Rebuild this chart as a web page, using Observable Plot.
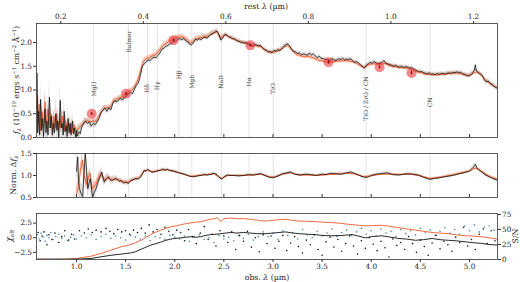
<!DOCTYPE html>
<html><head><meta charset="utf-8">
<script src="https://cdn.jsdelivr.net/npm/d3@7"></script>
<script src="https://cdn.jsdelivr.net/npm/@observablehq/plot@0.6"></script>
<style>
body{margin:0;background:#fff;}
#chart{position:relative;width:520px;height:282px;font-family:"DejaVu Serif",serif;}
#chart svg{position:absolute;left:0;overflow:visible;}
</style></head><body><div id="chart"></div>
<script>
const z = 3.2;
const obsDomain = [0.593, 5.285];
const restTicks = [0.2,0.4,0.6,0.8,1.0,1.2];
const obsTicks = [1.0,1.5,2.0,2.5,3.0,3.5,4.0,4.5,5.0];
const fluxTicks = [0,0.5,1,1.5,2];
const normTicks = [0.5,1,1.5];
const chiTicks = [-2.5,0,2.5];
const snTicks = [0,25,50,75];
const fluxDomain = [0,2.4], normDomain = [0.5,1.5], chiDomain = [-3.72,4.15], snDomain = [0,76.6];

const lineNames = ["MgII","Balmer","Hδ","Hγ","Hβ","Mgb","NaD","Hα","TiO","TiO / ZrO / CN","CN"];
const lineRest  = [0.2798,0.3646,0.4102,0.4341,0.4861,0.5175,0.5893,0.6563,0.715,0.94,1.095];
const lineLabelFlux = [1.02,2.02,1.03,1.09,1.32,1.17,1.17,1.17,1.03,0.82,0.74];

// photometry: [obs λ, flux, err]
const photometry = [[1.155,0.50,0.03],[1.504,0.92,0.03],[1.988,2.05,0.03],[2.77,1.94,0.03],[3.565,1.585,0.04],[4.085,1.48,0.03],[4.41,1.36,0.04]];

// observed spectrum: [obs λ, f, err]
const specObs = [
[0.600,1.35,0.40],[0.605,0.10,0.30],[0.615,0.55,0.35],[0.625,0.05,0.30],[0.635,0.80,0.40],[0.645,0.15,0.30],[0.655,0.40,0.35],[0.665,0.02,0.30],[0.680,0.60,0.40],[0.690,0.10,0.30],[0.700,0.35,0.35],[0.710,0.05,0.30],[0.725,0.85,0.40],[0.735,0.20,0.30],[0.745,0.45,0.35],[0.755,0.05,0.30],[0.765,0.30,0.30],[0.775,0.10,0.30],[0.790,0.50,0.35],[0.800,0.15,0.30],[0.810,0.35,0.30],[0.820,0.00,0.25],[0.835,0.78,0.35],[0.845,0.20,0.30],[0.855,0.30,0.30],[0.865,0.05,0.25],[0.875,0.55,0.30],[0.885,0.12,0.25],[0.895,0.25,0.25],[0.905,0.02,0.20],[0.915,0.40,0.25],[0.925,0.10,0.20],[0.935,0.30,0.20],[0.945,0.05,0.20],[0.960,0.35,0.20],[0.970,0.08,0.18],[0.980,0.20,0.18],[0.990,0.02,0.15],[1.000,0.15,0.15],[1.010,0.03,0.12],[1.025,0.12,0.12],[1.040,0.08,0.10],
[1.050,0.20,0.09],[1.070,0.28,0.08],[1.090,0.35,0.08],[1.110,0.30,0.08],[1.130,0.33,0.08],[1.150,0.24,0.08],[1.170,0.30,0.08],[1.190,0.27,0.08],[1.210,0.33,0.08],[1.230,0.40,0.07],[1.250,0.52,0.07],[1.270,0.58,0.07],[1.290,0.62,0.07],[1.310,0.55,0.06],[1.330,0.63,0.06],[1.350,0.58,0.06],[1.370,0.72,0.06],[1.390,0.77,0.06],[1.410,0.75,0.06],[1.430,0.80,0.06],[1.450,0.82,0.06],[1.470,0.79,0.06],[1.490,0.85,0.06],[1.510,0.87,0.06],[1.530,0.93,0.06],[1.550,0.95,0.06],[1.570,0.92,0.06],[1.590,1.02,0.06],[1.610,1.10,0.06],[1.630,1.15,0.06],[1.650,1.30,0.05],[1.670,1.50,0.05],[1.690,1.55,0.05],[1.710,1.60,0.05],[1.730,1.63,0.05],[1.750,1.62,0.05],[1.770,1.67,0.05],[1.790,1.69,0.05],[1.810,1.68,0.05],[1.830,1.73,0.05],[1.850,1.78,0.05],[1.870,1.86,0.05],[1.890,1.88,0.05],[1.910,1.92,0.05],[1.930,1.94,0.05],[1.950,1.97,0.05],[1.970,1.99,0.05],[1.990,2.01,0.05],[2.010,2.03,0.05],[2.030,2.07,0.05],[2.050,2.08,0.05],[2.070,2.06,0.05],[2.090,2.08,0.05],[2.110,2.04,0.05],[2.130,2.02,0.05],[2.150,1.97,0.05],[2.170,1.95,0.05],[2.190,1.99,0.05],[2.210,2.07,0.05],[2.230,2.05,0.05],[2.250,2.08,0.05],[2.270,2.06,0.05],[2.290,2.10,0.05],[2.310,2.11,0.05],[2.330,2.09,0.05],[2.350,2.14,0.05],[2.370,2.17,0.05],[2.390,2.19,0.05],[2.410,2.22,0.05],[2.430,2.24,0.05],[2.450,2.18,0.05],[2.470,2.05,0.05],[2.490,2.10,0.05],[2.510,2.17,0.04],[2.530,2.16,0.04],[2.550,2.12,0.04],[2.570,2.11,0.04],[2.590,2.08,0.04],[2.610,2.07,0.04],[2.630,2.04,0.04],[2.650,2.03,0.04],[2.670,2.01,0.04],[2.690,2.00,0.04],[2.710,1.99,0.04],[2.730,2.00,0.04],[2.750,1.97,0.04],[2.770,1.96,0.04],[2.790,1.92,0.04],[2.810,1.96,0.04],[2.830,1.95,0.04],[2.850,1.93,0.04],[2.870,1.94,0.04],[2.890,1.90,0.04],[2.910,1.86,0.04],[2.930,1.84,0.04],[2.950,1.80,0.04],[2.970,1.81,0.04],[2.990,1.79,0.04],[3.010,1.83,0.04],[3.030,1.82,0.04],[3.050,1.85,0.04],[3.070,1.83,0.04],[3.090,1.87,0.04],[3.110,1.92,0.04],[3.130,1.95,0.04],[3.150,1.97,0.04],[3.170,1.93,0.04],[3.190,1.85,0.04],[3.210,1.82,0.04],[3.230,1.80,0.04],[3.250,1.77,0.04],[3.270,1.78,0.04],[3.290,1.74,0.04],[3.310,1.76,0.04],[3.330,1.75,0.04],[3.350,1.73,0.04],[3.370,1.78,0.04],[3.390,1.74,0.04],[3.410,1.76,0.04],[3.430,1.72,0.04],[3.450,1.68,0.04],[3.470,1.71,0.04],[3.490,1.67,0.04],[3.510,1.66,0.04],[3.530,1.64,0.04],[3.550,1.65,0.04],[3.570,1.62,0.04],[3.590,1.64,0.04],[3.610,1.66,0.04],[3.630,1.62,0.04],[3.650,1.63,0.04],[3.670,1.66,0.04],[3.690,1.64,0.04],[3.710,1.67,0.04],[3.730,1.63,0.04],[3.750,1.65,0.04],[3.770,1.64,0.04],[3.790,1.66,0.04],[3.810,1.62,0.04],[3.830,1.58,0.04],[3.850,1.60,0.04],[3.870,1.57,0.04],[3.890,1.53,0.04],[3.910,1.50,0.04],[3.930,1.46,0.04],[3.950,1.52,0.04],[3.970,1.55,0.04],[3.990,1.58,0.04],[4.010,1.56,0.04],[4.030,1.60,0.04],[4.050,1.57,0.04],[4.070,1.55,0.04],[4.090,1.56,0.04],[4.110,1.58,0.04],[4.130,1.62,0.04],[4.150,1.56,0.04],[4.170,1.55,0.04],[4.190,1.53,0.04],[4.210,1.52,0.04],[4.230,1.50,0.04],[4.250,1.52,0.04],[4.270,1.49,0.04],[4.290,1.48,0.04],[4.310,1.50,0.04],[4.330,1.47,0.04],[4.350,1.49,0.04],[4.370,1.48,0.04],[4.390,1.46,0.04],[4.410,1.47,0.04],[4.430,1.45,0.04],[4.450,1.42,0.04],[4.470,1.40,0.04],[4.490,1.38,0.04],[4.510,1.39,0.04],[4.530,1.37,0.04],[4.550,1.35,0.04],[4.570,1.34,0.04],[4.590,1.36,0.04],[4.610,1.33,0.04],[4.630,1.34,0.04],[4.650,1.32,0.04],[4.670,1.35,0.04],[4.690,1.33,0.04],[4.710,1.34,0.04],[4.730,1.35,0.04],[4.750,1.33,0.04],[4.770,1.35,0.04],[4.790,1.36,0.04],[4.810,1.35,0.04],[4.830,1.37,0.04],[4.850,1.36,0.04],[4.870,1.38,0.04],[4.890,1.36,0.04],[4.910,1.37,0.05],[4.930,1.34,0.05],[4.950,1.33,0.05],[4.970,1.31,0.05],[4.990,1.30,0.05],[5.010,1.32,0.05],[5.030,1.35,0.05],[5.050,1.42,0.05],[5.060,1.53,0.06],[5.070,1.40,0.05],[5.090,1.37,0.05],[5.110,1.34,0.05],[5.130,1.31,0.05],[5.150,1.22,0.05],[5.170,1.17,0.05],[5.190,1.19,0.05],[5.210,1.14,0.05],[5.230,1.12,0.05],[5.250,1.08,0.05],[5.270,1.05,0.05],[5.285,1.04,0.05]
];

// model spectrum: [obs λ, f, err]
const specModel = [
[0.600,0.90,0.20],[0.610,0.30,0.15],[0.620,0.70,0.20],[0.635,0.15,0.12],[0.650,0.55,0.18],[0.665,0.20,0.12],[0.680,0.75,0.20],[0.695,0.25,0.12],[0.710,0.60,0.18],[0.725,0.20,0.12],[0.740,0.50,0.15],[0.755,0.15,0.12],[0.770,0.45,0.15],[0.785,0.20,0.12],[0.800,0.50,0.15],[0.815,0.15,0.12],[0.830,0.40,0.15],[0.845,0.20,0.12],[0.860,0.45,0.15],[0.875,0.15,0.12],[0.890,0.35,0.12],[0.905,0.15,0.10],[0.920,0.30,0.10],[0.935,0.10,0.10],[0.950,0.30,0.10],[0.965,0.10,0.08],[0.980,0.25,0.08],[1.000,0.10,0.08],[1.020,0.20,0.07],[1.050,0.25,0.06],[1.080,0.32,0.06],[1.110,0.36,0.05],[1.140,0.33,0.05],[1.170,0.35,0.05],[1.200,0.34,0.05],[1.230,0.45,0.05],[1.260,0.56,0.05],[1.290,0.63,0.05],[1.320,0.62,0.05],[1.350,0.65,0.05],[1.380,0.78,0.05],[1.410,0.80,0.05],[1.440,0.84,0.05],[1.470,0.85,0.05],[1.500,0.90,0.05],[1.530,0.97,0.05],[1.560,0.99,0.05],[1.590,1.06,0.05],[1.620,1.18,0.05],[1.650,1.38,0.05],[1.680,1.60,0.05],[1.710,1.66,0.05],[1.740,1.68,0.05],[1.770,1.72,0.05],[1.800,1.74,0.05],[1.830,1.79,0.05],[1.860,1.88,0.05],[1.890,1.95,0.05],[1.920,1.99,0.05],[1.950,2.04,0.05],[1.980,2.06,0.05],[2.010,2.09,0.05],[2.040,2.12,0.05],[2.070,2.12,0.05],[2.100,2.10,0.05],[2.130,2.05,0.05],[2.160,1.99,0.05],[2.190,2.02,0.05],[2.220,2.08,0.05],[2.250,2.09,0.05],[2.280,2.11,0.05],[2.310,2.13,0.05],[2.340,2.13,0.05],[2.370,2.18,0.05],[2.400,2.21,0.05],[2.430,2.23,0.05],[2.460,2.10,0.05],[2.490,2.12,0.05],[2.520,2.16,0.04],[2.550,2.12,0.04],[2.580,2.09,0.04],[2.610,2.07,0.04],[2.640,2.04,0.04],[2.670,2.01,0.04],[2.700,2.00,0.04],[2.730,1.98,0.04],[2.760,1.95,0.04],[2.790,1.93,0.04],[2.820,1.94,0.04],[2.850,1.92,0.04],[2.880,1.91,0.04],[2.910,1.85,0.04],[2.940,1.82,0.04],[2.970,1.79,0.04],[3.000,1.79,0.04],[3.030,1.81,0.04],[3.060,1.83,0.04],[3.090,1.86,0.04],[3.120,1.91,0.04],[3.150,1.94,0.04],[3.180,1.88,0.04],[3.210,1.80,0.04],[3.240,1.75,0.04],[3.270,1.73,0.04],[3.300,1.71,0.04],[3.330,1.70,0.04],[3.360,1.71,0.04],[3.390,1.69,0.04],[3.420,1.67,0.04],[3.450,1.64,0.04],[3.480,1.62,0.04],[3.510,1.61,0.04],[3.540,1.60,0.04],[3.570,1.58,0.04],[3.600,1.60,0.04],[3.630,1.60,0.04],[3.660,1.61,0.04],[3.690,1.61,0.04],[3.720,1.62,0.04],[3.750,1.62,0.04],[3.780,1.61,0.04],[3.810,1.60,0.04],[3.840,1.57,0.04],[3.870,1.54,0.04],[3.900,1.50,0.04],[3.930,1.47,0.04],[3.960,1.51,0.04],[3.990,1.54,0.04],[4.020,1.55,0.04],[4.050,1.55,0.04],[4.080,1.54,0.04],[4.110,1.55,0.04],[4.140,1.56,0.04],[4.170,1.53,0.04],[4.200,1.51,0.04],[4.230,1.49,0.04],[4.260,1.49,0.04],[4.290,1.47,0.04],[4.320,1.47,0.04],[4.350,1.46,0.04],[4.380,1.46,0.04],[4.410,1.44,0.04],[4.440,1.41,0.04],[4.470,1.38,0.04],[4.500,1.37,0.04],[4.530,1.35,0.04],[4.560,1.33,0.04],[4.590,1.33,0.04],[4.620,1.32,0.04],[4.650,1.32,0.04],[4.680,1.32,0.04],[4.710,1.33,0.04],[4.740,1.33,0.04],[4.770,1.34,0.04],[4.800,1.35,0.04],[4.830,1.35,0.04],[4.860,1.36,0.04],[4.890,1.35,0.04],[4.920,1.34,0.04],[4.950,1.32,0.04],[4.980,1.30,0.04],[5.010,1.31,0.04],[5.040,1.35,0.04],[5.070,1.38,0.04],[5.100,1.35,0.04],[5.130,1.30,0.04],[5.160,1.21,0.04],[5.190,1.17,0.04],[5.220,1.12,0.04],[5.250,1.08,0.04],[5.285,1.04,0.04]
];

// normalised residual spectrum: [obs λ, value, err]
const normObs = [
[1.000,1.10,0.30],[1.013,1.42,0.30],[1.020,0.90,0.30],[1.030,0.70,0.30],[1.045,0.60,0.25],[1.064,0.52,0.25],[1.075,1.00,0.25],[1.090,1.50,0.25],[1.100,1.20,0.25],[1.115,0.70,0.20],[1.130,0.85,0.20],[1.141,0.93,0.20],[1.155,0.65,0.20],[1.165,0.50,0.20],[1.180,0.62,0.15],[1.199,0.70,0.15],[1.215,0.82,0.15],[1.233,0.93,0.12],[1.257,1.08,0.12],[1.270,0.95,0.12],[1.283,0.85,0.10],[1.300,0.92,0.10],[1.324,0.97,0.08],[1.345,0.90,0.08],[1.368,0.89,0.08],[1.390,0.93,0.07],[1.419,0.91,0.07],[1.440,0.87,0.07],[1.453,0.89,0.06],[1.480,0.83,0.06],[1.504,0.85,0.06],[1.530,0.82,0.05],[1.554,0.89,0.05],[1.580,0.91,0.05],[1.605,0.93,0.04],[1.630,0.92,0.04],[1.656,0.97,0.04],[1.675,1.05,0.03],[1.690,1.12,0.03],[1.710,1.10,0.03],[1.724,1.14,0.03],[1.750,1.10,0.03],[1.770,1.07,0.03],[1.791,1.08,0.03],[1.820,1.10,0.03],[1.859,1.12,0.03],[1.880,1.15,0.03],[1.900,1.12,0.03],[1.927,1.14,0.03],[1.950,1.11,0.03],[1.994,1.10,0.03],[2.030,1.07,0.025],[2.062,1.05,0.025],[2.100,1.03,0.025],[2.130,1.00,0.025],[2.160,0.98,0.025],[2.197,0.97,0.025],[2.230,0.99,0.025],[2.265,1.00,0.025],[2.300,1.02,0.025],[2.333,1.01,0.025],[2.370,1.03,0.025],[2.400,1.05,0.025],[2.430,1.02,0.025],[2.451,0.97,0.025],[2.470,0.92,0.025],[2.485,0.93,0.025],[2.510,0.98,0.025],[2.536,1.01,0.025],[2.570,1.00,0.025],[2.603,1.00,0.025],[2.650,0.99,0.025],[2.700,1.00,0.025],[2.750,1.02,0.025],[2.800,1.01,0.025],[2.874,1.04,0.025],[2.920,1.00,0.025],[2.960,0.96,0.025],[3.000,0.95,0.025],[3.040,0.98,0.025],[3.090,1.03,0.025],[3.140,1.06,0.025],[3.180,1.08,0.025],[3.220,1.03,0.025],[3.280,1.01,0.025],[3.330,1.03,0.025],[3.380,1.02,0.025],[3.440,1.00,0.025],[3.500,1.03,0.025],[3.540,1.02,0.025],[3.585,1.05,0.025],[3.640,1.04,0.025],[3.700,1.03,0.025],[3.750,1.06,0.025],[3.790,1.08,0.025],[3.830,1.05,0.025],[3.880,1.00,0.025],[3.930,0.96,0.025],[3.960,0.96,0.025],[4.000,1.00,0.025],[4.050,1.03,0.025],[4.100,1.04,0.025],[4.160,1.06,0.025],[4.220,1.02,0.025],[4.280,1.01,0.025],[4.360,1.04,0.025],[4.420,1.03,0.025],[4.480,1.01,0.025],[4.530,0.96,0.025],[4.570,0.93,0.025],[4.600,0.91,0.025],[4.640,0.93,0.025],[4.700,0.95,0.025],[4.770,0.98,0.025],[4.830,1.00,0.025],[4.900,1.04,0.03],[4.960,1.07,0.03],[5.000,1.10,0.03],[5.040,1.19,0.03],[5.060,1.26,0.04],[5.080,1.16,0.03],[5.108,1.11,0.03],[5.150,1.03,0.03],[5.210,0.96,0.03],[5.250,0.92,0.03],[5.285,0.89,0.03]
];
const normModel = [
[1.000,0.60,0.15],[1.020,0.75,0.15],[1.040,1.10,0.15],[1.060,1.35,0.15],[1.080,1.00,0.12],[1.100,0.80,0.12],[1.120,0.95,0.12],[1.140,1.05,0.10],[1.160,0.70,0.10],[1.180,0.75,0.10],[1.200,0.80,0.08],[1.230,0.98,0.08],[1.260,1.02,0.07],[1.290,0.88,0.06],[1.320,0.95,0.05],[1.360,0.90,0.05],[1.400,0.92,0.04],[1.440,0.88,0.04],[1.480,0.85,0.04],[1.520,0.84,0.04],[1.560,0.88,0.03],[1.600,0.92,0.03],[1.640,0.95,0.03],[1.680,1.08,0.03],[1.720,1.12,0.02],[1.760,1.09,0.02],[1.800,1.09,0.02],[1.860,1.12,0.02],[1.920,1.13,0.02],[1.980,1.10,0.02],[2.040,1.06,0.02],[2.100,1.02,0.02],[2.160,0.98,0.02],[2.220,0.99,0.02],[2.280,1.01,0.02],[2.340,1.02,0.02],[2.400,1.04,0.02],[2.450,0.96,0.02],[2.480,0.93,0.02],[2.540,1.00,0.02],[2.620,1.00,0.02],[2.700,1.00,0.02],[2.800,1.01,0.02],[2.880,1.03,0.02],[2.960,0.97,0.02],[3.020,0.96,0.02],[3.100,1.03,0.02],[3.180,1.06,0.02],[3.260,1.01,0.02],[3.360,1.01,0.02],[3.460,1.00,0.02],[3.560,1.02,0.02],[3.660,1.03,0.02],[3.760,1.05,0.02],[3.840,1.03,0.02],[3.920,0.97,0.02],[4.000,0.99,0.02],[4.100,1.03,0.02],[4.200,1.03,0.02],[4.300,1.02,0.02],[4.400,1.03,0.02],[4.500,0.99,0.02],[4.600,0.93,0.02],[4.700,0.96,0.02],[4.800,1.00,0.02],[4.900,1.05,0.02],[5.000,1.10,0.02],[5.060,1.17,0.03],[5.120,1.10,0.03],[5.200,0.98,0.03],[5.285,0.91,0.03]
];

// S/N curves: [obs λ, S/N]
const snOrange = [[0.593,0.5],[0.900,0.5],[1.000,1.5],[1.047,3],[1.148,5.5],[1.250,10],[1.350,15.5],[1.453,21],[1.554,25],[1.600,28],[1.656,32],[1.700,36],[1.757,41.5],[1.800,45],[1.859,49],[1.910,52],[1.960,54.5],[2.010,56],[2.062,58],[2.110,59.5],[2.163,61],[2.210,62],[2.265,63],[2.310,65],[2.367,67],[2.400,68],[2.435,69.5],[2.468,63],[2.500,68],[2.570,69],[2.637,68],[2.700,68],[2.770,67],[2.840,65.5],[2.910,64],[2.980,65],[3.050,66],[3.128,67],[3.200,65],[3.263,64],[3.350,63.5],[3.432,63],[3.520,62],[3.600,61.5],[3.700,60],[3.805,58],[3.870,57],[3.940,56],[4.020,56.5],[4.110,57],[4.200,55],[4.280,53],[4.360,51],[4.450,49],[4.530,47],[4.620,45],[4.700,44],[4.785,43],[4.870,41],[4.955,39.5],[5.040,39],[5.125,38],[5.200,36],[5.285,34]];
const snBlack = [[0.593,0.5],[0.800,0.5],[1.000,0.8],[1.050,1.0],[1.148,1.7],[1.250,4.5],[1.350,7],[1.453,9],[1.554,11],[1.600,13],[1.656,17],[1.700,20],[1.757,24],[1.800,26],[1.859,29],[1.910,32],[1.960,34],[2.000,35],[2.062,36],[2.110,37],[2.163,38],[2.210,37],[2.265,38],[2.310,40],[2.367,41.5],[2.420,42],[2.468,43],[2.520,44],[2.570,45],[2.630,44],[2.700,45],[2.770,44],[2.840,43],[2.925,43],[3.000,44],[3.060,45],[3.128,46],[3.200,44],[3.263,43],[3.350,42],[3.430,41.5],[3.500,40],[3.600,39.5],[3.700,40],[3.805,41.5],[3.870,39],[3.940,36],[4.000,38],[4.110,39.5],[4.200,37],[4.280,35],[4.360,34],[4.450,32],[4.530,33],[4.620,35],[4.700,33],[4.785,32],[4.870,31],[4.955,29.5],[5.040,28],[5.125,26.7],[5.200,25],[5.285,24]];

// χ_eff points: [obs λ, χ]
const chiBlack = [[0.61,0.9],[0.63,-0.5],[0.65,0.3],[0.67,1.0],[0.70,-1.2],[0.72,0.5],[0.75,-0.3],[0.78,0.8],[0.82,-0.8],[0.85,0.2],[0.88,1.2],[0.92,-0.4],[0.95,0.6],[0.98,-0.2],[1.03,1.2],[1.08,0.8],[1.12,1.5],[1.16,0.9],[1.20,1.3],[1.25,1.0],[1.30,1.6],[1.34,1.1],[1.38,0.7],[1.42,1.4],[1.46,1.0],[1.50,1.2],[1.54,0.6],[1.58,1.3],[1.62,0.9],[1.66,1.6],[1.70,0.8],[1.74,2.2],[1.78,1.0],[1.82,1.4],[1.86,0.6],[1.90,1.8],[1.94,1.1],[1.98,0.5],[2.02,1.3],[2.06,0.9],[2.10,-0.5],[2.14,1.4],[2.18,0.2],[2.22,-1.0],[2.26,0.8],[2.30,1.9],[2.34,-0.3],[2.38,0.6],[2.42,-1.4],[2.46,1.2],[2.50,0.3],[2.54,-0.8],[2.58,1.0],[2.62,-2.0],[2.66,0.4],[2.70,-0.6],[2.74,1.1],[2.78,-1.6],[2.82,0.0],[2.86,-2.4],[2.90,0.5],[2.94,-1.0],[2.98,0.3],[3.02,-1.8],[3.06,-0.6],[3.10,0.4],[3.14,-2.2],[3.18,-0.9],[3.22,0.2],[3.26,-1.5],[3.30,-2.6],[3.34,-0.4],[3.38,-1.2],[3.42,0.5],[3.46,-2.0],[3.50,-3.0],[3.54,-0.7],[3.58,0.1],[3.62,-1.6],[3.66,-0.3],[3.70,-2.3],[3.74,-1.0],[3.78,0.3],[3.82,-1.4],[3.86,-2.8],[3.90,-0.5],[3.94,-1.8],[3.98,0.0],[4.02,-1.1],[4.06,-2.2],[4.10,-0.6],[4.14,-1.7],[4.18,-3.3],[4.22,-0.2],[4.26,-1.3],[4.30,-0.8],[4.34,-2.0],[4.38,0.2],[4.42,-1.0],[4.46,-2.5],[4.50,-0.4],[4.54,-1.5],[4.58,-3.0],[4.62,-0.9],[4.66,0.4],[4.70,-1.9],[4.74,-0.6],[4.78,-1.2],[4.82,-2.3],[4.86,0.1],[4.90,-0.8],[4.94,1.8],[4.98,-1.4],[5.02,-0.3],[5.06,-2.0],[5.10,0.6],[5.14,1.5],[5.18,-1.0],[5.22,1.2],[5.26,-0.5]];
const chiBlue = [[0.60,0.5],[0.62,-0.2],[0.64,0.8],[0.66,0.1],[0.68,-0.6],[0.70,0.4],[0.72,0.0],[0.74,0.9],[0.76,-0.3],[0.79,0.2],[0.82,0.6],[0.85,-0.1],[0.88,0.3],[0.91,-0.5],[0.94,0.1],[0.97,0.5],[1.00,-0.2],[1.05,0.3],[1.10,0.0],[1.15,0.5],[1.20,-0.3],[1.25,0.2],[1.30,0.6],[1.35,-0.1],[1.40,0.3],[1.45,0.0],[1.50,-0.4],[1.55,0.4],[1.60,0.1],[1.65,-0.2],[1.70,0.3],[1.75,-0.5],[1.80,0.2],[1.85,0.0],[1.90,-0.3],[1.95,0.4],[2.00,0.1],[2.05,-0.2],[2.10,0.3],[2.15,-0.6],[2.20,0.2],[2.25,0.5],[2.30,-0.3],[2.35,0.0],[2.40,-0.8],[2.45,0.4],[2.50,-0.2],[2.55,0.1],[2.60,-0.5],[2.65,0.3],[2.70,-0.1],[2.75,0.6],[2.80,-0.4],[2.85,0.2],[2.90,1.0],[2.95,0.2],[3.00,0.8],[3.05,-0.3],[3.10,1.2],[3.15,0.4],[3.20,0.9],[3.25,-0.2],[3.30,1.4],[3.35,0.5],[3.40,0.0],[3.45,1.1],[3.50,0.3],[3.55,0.8],[3.60,1.5],[3.65,0.2],[3.70,0.9],[3.75,1.3],[3.80,0.4],[3.85,1.0],[3.90,1.6],[3.95,0.6],[4.00,1.2],[4.05,0.3],[4.10,1.5],[4.15,0.8],[4.20,1.1],[4.25,0.2],[4.30,1.4],[4.35,0.7],[4.40,1.2],[4.45,0.5],[4.50,1.6],[4.55,0.9],[4.60,1.3],[4.65,0.4],[4.70,1.1],[4.75,1.7],[4.80,0.8],[4.85,1.4],[4.90,0.6],[4.95,2.0],[5.00,1.2],[5.05,2.2],[5.10,1.0],[5.15,1.8],[5.20,2.0],[5.25,1.3]];

// ---------- drawing ----------
const ORANGE = "#ef5a2c", BLACK = "#111", FRAME = "#333";
const common = {
  width: 520, marginLeft: 36, marginRight: 23,
  x: {domain: obsDomain},
  style: {fontFamily: '"DejaVu Serif", serif', fontSize: "7.3px", color: "#222", background: "transparent", overflow: "visible"}
};
const fmt1 = d => (d < 0 ? "−" : "") + Math.abs(d).toFixed(1);
const X = d => d[0];
const lineObs = lineRest.map(r => r * (1 + z));
const chart = document.getElementById("chart");
function place(svg, top) { svg.style.top = top + "px"; chart.appendChild(svg); }

const topPlot = Plot.plot({
  ...common, height: 140, marginTop: 23, marginBottom: 3,
  y: {domain: fluxDomain},
  marks: [
    Plot.ruleX(lineObs, {x: d => d, stroke: "#dcdcdc", strokeWidth: 0.8}),
    Plot.areaY(specModel, {x: X, y1: d => d[1] - d[2], y2: d => d[1] + d[2], fill: "#f6a486", fillOpacity: 0.6, clip: true}),
    Plot.areaY(specObs, {x: X, y1: d => d[1] - d[2], y2: d => d[1] + d[2], fill: "#a8a8a8", fillOpacity: 0.38, clip: true}),
    Plot.line(specModel, {x: X, y: d => d[1], stroke: ORANGE, strokeWidth: 0.9, clip: true}),
    Plot.line(specObs, {x: X, y: d => d[1], stroke: BLACK, strokeWidth: 0.8, clip: true}),
    Plot.text(lineNames, {x: (d, i) => lineObs[i], y: (d, i) => lineLabelFlux[i], text: d => d, rotate: -90, fontSize: 6, fill: "#444"}),
    Plot.dot(photometry, {x: X, y: d => d[1], r: 5, fill: "#e8383d", fillOpacity: 0.6, stroke: null}),
    Plot.ruleX(photometry, {x: X, y1: d => d[1] - d[2], y2: d => d[1] + d[2], stroke: "#a01010", strokeWidth: 1}),
    Plot.dot(photometry, {x: X, y: d => d[1], r: 1, fill: "#a01010", stroke: null}),
    Plot.axisY({ticks: fluxTicks, tickFormat: fmt1, tickSize: 3, tickPadding: 1.5, label: null, stroke: FRAME}),
    Plot.axisX({anchor: "top", ticks: restTicks.map(r => r * (1 + z)), tickFormat: d => (d / (1 + z)).toFixed(1), tickSize: 3, tickPadding: 2, label: null, stroke: FRAME}),
    Plot.axisX({anchor: "bottom", ticks: obsTicks, tickFormat: () => "", tickSize: -3, label: null, stroke: FRAME}),
    Plot.frame({stroke: FRAME, strokeWidth: 0.8})
  ]
});
place(topPlot, 0);

const midPlot = Plot.plot({
  ...common, height: 52, marginTop: 5, marginBottom: 3,
  y: {domain: normDomain},
  marks: [
    Plot.ruleX(lineObs, {x: d => d, stroke: "#dcdcdc", strokeWidth: 0.8}),
    Plot.areaY(normObs, {x: X, y1: d => d[1] - d[2], y2: d => d[1] + d[2], fill: "#a8a8a8", fillOpacity: 0.4, clip: true}),
    Plot.areaY(normModel, {x: X, y1: d => d[1] - d[2], y2: d => d[1] + d[2], fill: "#f6a486", fillOpacity: 0.6, clip: true}),
    Plot.line(normModel, {x: X, y: d => d[1], stroke: ORANGE, strokeWidth: 0.9, clip: true}),
    Plot.line(normObs, {x: X, y: d => d[1], stroke: BLACK, strokeWidth: 0.8, clip: true}),
    Plot.axisY({ticks: normTicks, tickFormat: fmt1, tickSize: 3, tickPadding: 1.5, label: null, stroke: FRAME}),
    Plot.axisX({anchor: "bottom", ticks: obsTicks, tickFormat: () => "", tickSize: -3, label: null, stroke: FRAME}),
    Plot.frame({stroke: FRAME, strokeWidth: 0.8})
  ]
});
place(midPlot, 148);

const sn2chi = s => chiDomain[0] + (s - snDomain[0]) / (snDomain[1] - snDomain[0]) * (chiDomain[1] - chiDomain[0]);
const chi2sn = c => snDomain[0] + (c - chiDomain[0]) / (chiDomain[1] - chiDomain[0]) * (snDomain[1] - snDomain[0]);
const botPlot = Plot.plot({
  ...common, height: 74, marginTop: 5, marginBottom: 23,
  y: {domain: chiDomain},
  marks: [
    Plot.dot(chiBlue, {x: X, y: d => d[1], r: 0.8, fill: "#4a86b5", stroke: null, clip: true}),
    Plot.dot(chiBlack, {x: X, y: d => d[1], r: 0.8, fill: "#111", stroke: null, clip: true}),
    Plot.line(snOrange, {x: X, y: d => sn2chi(d[1]), stroke: ORANGE, strokeWidth: 0.9, clip: true}),
    Plot.line(snBlack, {x: X, y: d => sn2chi(d[1]), stroke: BLACK, strokeWidth: 0.9, clip: true}),
    Plot.axisY({ticks: chiTicks, tickFormat: fmt1, tickSize: 3, tickPadding: 1.5, label: null, stroke: FRAME}),
    Plot.axisY({anchor: "right", ticks: snTicks.map(sn2chi), tickFormat: d => Math.round(chi2sn(d)), tickSize: 3, tickPadding: 1.5, label: null, stroke: FRAME}),
    Plot.axisX({anchor: "bottom", ticks: obsTicks, tickFormat: fmt1, tickSize: 3, tickPadding: 1.5, label: null, stroke: FRAME}),
    Plot.frame({stroke: FRAME, strokeWidth: 0.8})
  ]
});
place(botPlot, 208);

// ---------- axis titles ----------
const ov = d3.select(chart).append("svg").attr("width", 520).attr("height", 282)
  .style("top", "0px").style("pointer-events", "none")
  .style("font-family", '"DejaVu Serif", serif');
function label(x, y, rot, parts, size) {
  const t = ov.append("text").attr("transform", `translate(${x},${y}) rotate(${rot})`)
    .attr("text-anchor", "middle").attr("font-size", size).attr("fill", "#222");
  parts.forEach(p => {
    const s = t.append("tspan").text(p.t);
    if (p.dy) s.attr("dy", p.dy);
    if (p.it) s.attr("font-style", "italic");
    if (p.fs) s.attr("font-size", p.fs);
  });
}
const sup = 5.3;
label(266, 9, 0, [{t: "rest "}, {t: "λ", it: true}, {t: " (µm)"}], 7.8);
label(267, 280, 0, [{t: "obs. "}, {t: "λ", it: true}, {t: " (µm)"}], 7.8);
label(19, 80, -90, [{t: "f", it: true}, {t: "λ", dy: 1.5, fs: sup, it: true}, {t: " (10", dy: -1.5}, {t: "−19", dy: -3, fs: sup}, {t: " ergs s", dy: 3}, {t: "−1", dy: -3, fs: sup}, {t: " cm", dy: 3}, {t: "−2", dy: -3, fs: sup}, {t: " Å", dy: 3}, {t: "−1", dy: -3, fs: sup}, {t: ")", dy: 3}], 7.8);
label(16, 175, -90, [{t: "Norm. Δ"}, {t: "f", it: true}, {t: "λ", dy: 1.5, fs: sup, it: true}], 7.8);
label(12, 236, -90, [{t: "χ", it: true}, {t: "eff", dy: 1.5, fs: sup}], 8.3);
label(518, 236, -90, [{t: "S/N"}], 7.8);
</script></body></html>
